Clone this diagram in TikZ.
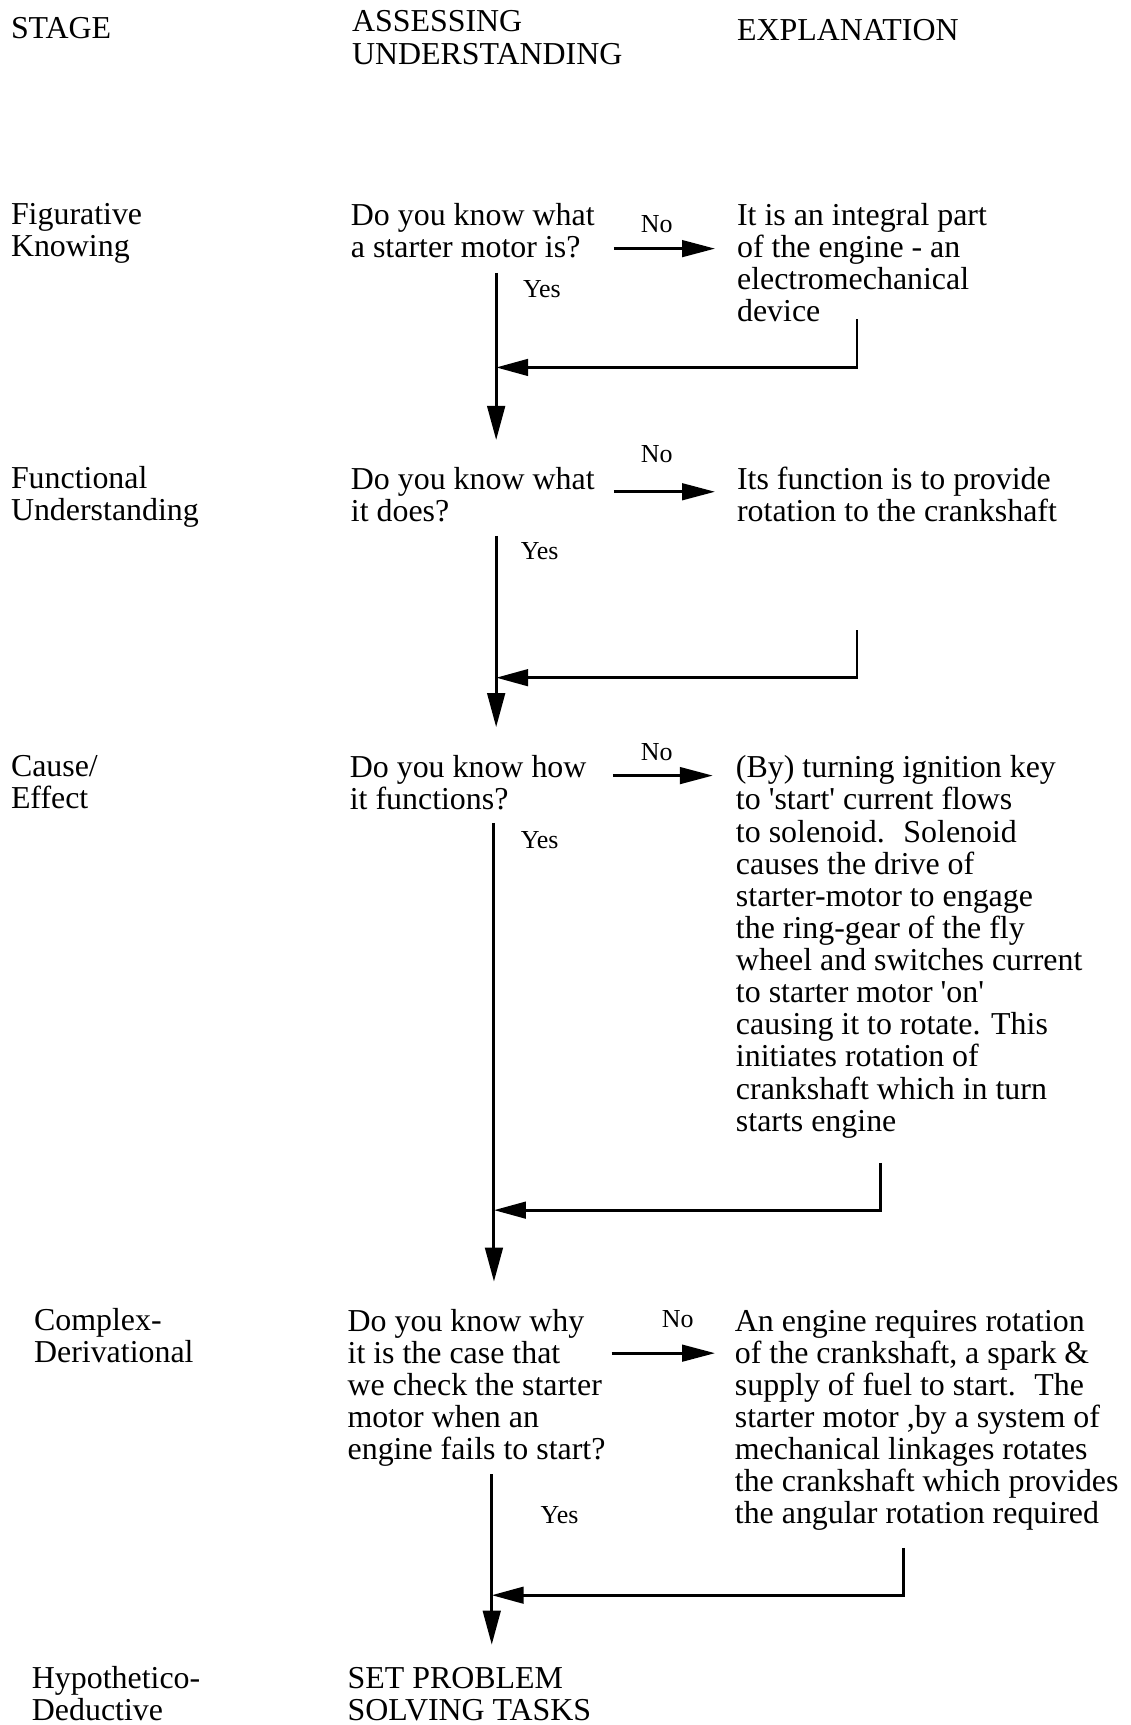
\documentclass[tikz,border=0pt]{standalone}
\usepackage{fontspec}
\setmainfont{Liberation Serif}
\usetikzlibrary{arrows.meta}
% fixed height for the first line of every text block, so its baseline sits at the node's point
\newcommand\firstline{\rule{0pt}{12pt}}
\newcommand\sq{\textquotesingle}

\begin{document}
\begin{tikzpicture}[x=0.5pt,y=-0.5pt,
  txt/.style={anchor=north west, inner sep=0pt, outer sep=0pt, align=left, yshift=12pt,
              font=\fontsize{14.5}{14.6}\selectfont},
  lbl/.style={anchor=base west, inner sep=0pt, font=\fontsize{11.8}{12}\selectfont},
  nolbl/.style={anchor=base, inner sep=0pt, font=\fontsize{11.8}{12}\selectfont},
  flow/.style={line width=1.35pt, -{Triangle[length=15.5pt,width=8pt]}},
  noarrow/.style={line width=1.35pt, -{Triangle[length=15pt,width=7.5pt]}},
  back/.style={line width=1.35pt, -{Triangle[length=14.5pt,width=7.5pt]}}]

\useasboundingbox[fill=white] (0,0) rectangle (1028,1568);

% column headings
\node[txt] (hstage) at (10,35) {\firstline STAGE};
\node[txt] (hassess) at (320,29) {\firstline ASSESSING\\UNDERSTANDING};
\node[txt] (hexpl) at (670,37) {\firstline EXPLANATION};

% stages
\node[txt] (s1) at (10,204) {\firstline Figurative\\Knowing};
\node[txt] (s2) at (10,444) {\firstline Functional\\Understanding};
\node[txt] (s3) at (10,706) {\firstline Cause/\\Effect};
\node[txt] (s4) at (31,1209) {\firstline Complex-\\Derivational};
\node[txt] (s5) at (29,1535) {\firstline Hypothetico-\\Deductive};

% questions
\node[txt] (q1) at (319,205) {\firstline Do you know what\\a starter motor is?};
\node[txt] (q2) at (319,445) {\firstline Do you know what\\it does?};
\node[txt] (q3) at (318,707) {\firstline Do you know how\\it functions?};
\node[txt] (q4) at (316,1210) {\firstline Do you know why\\it is the case that\\we check the starter\\motor when an\\engine fails to start?};
\node[txt] (q5) at (316,1535) {\firstline SET PROBLEM\\SOLVING TASKS};

% explanations
\node[txt] (e1) at (670,205) {\firstline It is an integral part\\of the engine - an\\electromechanical\\device};
\node[txt] (e2) at (670,445) {\firstline Its function is to provide\\rotation to the crankshaft};
\node[txt] (e3) at (669,707) {\firstline (By) turning ignition key\\to \sq start\sq{} current flows\\to solenoid.~ Solenoid\\causes the drive of\\starter-motor to engage\\the ring-gear of the fly\\wheel and switches current\\to starter motor \sq on\sq\\causing it to rotate. This\\initiates rotation of\\crankshaft which in turn\\starts engine};
\node[txt] (e4) at (668,1210) {\firstline An engine requires rotation\\of the crankshaft, a spark \&\\supply of fuel to start.~ The\\starter motor ,by a system of\\mechanical linkages rotates\\the crankshaft which provides\\the angular rotation required};

% "No" branches
\coordinate (n1a) at (558,226); \coordinate (n1b) at (650,226);
\coordinate (n2a) at (558,447); \coordinate (n2b) at (650,447);
\coordinate (n3a) at (557,705); \coordinate (n3b) at (648,705);
\coordinate (n4a) at (556,1230); \coordinate (n4b) at (650,1230);
\draw[noarrow] (n1a) -- (n1b);
\draw[noarrow] (n2a) -- (n2b);
\draw[noarrow] (n3a) -- (n3b);
\draw[noarrow] (n4a) -- (n4b);
\node[nolbl] (no1) at (597,211) {No};
\node[nolbl] (no2) at (597,420) {No};
\node[nolbl] (no3) at (597,691) {No};
\node[nolbl] (no4) at (616,1207) {No};

% "Yes" trunk
\coordinate (y1a) at (451,248);  \coordinate (y1b) at (451,400);
\coordinate (y2a) at (451,487);  \coordinate (y2b) at (451,661);
\coordinate (y3a) at (449,748);  \coordinate (y3b) at (449,1165);
\coordinate (y4a) at (447,1340); \coordinate (y4b) at (447,1495);
\draw[flow] (y1a) -- (y1b);
\draw[flow] (y2a) -- (y2b);
\draw[flow] (y3a) -- (y3b);
\draw[flow] (y4a) -- (y4b);
\node[lbl] (yes1) at (475,270) {Yes};
\node[lbl] (yes2) at (473,509) {Yes};
\node[lbl] (yes3) at (473,771) {Yes};
\node[lbl] (yes4) at (491,1385) {Yes};

% returns from the explanations to the trunk
\coordinate (r1a) at (779,290);  \coordinate (r1b) at (451,334);
\coordinate (r2a) at (779,573);  \coordinate (r2b) at (451,616);
\coordinate (r3a) at (800,1057); \coordinate (r3b) at (449,1100);
\coordinate (r4a) at (821,1407); \coordinate (r4b) at (447,1450);
\draw[back] (r1a) |- (r1b);
\draw[back] (r2a) |- (r2b);
\draw[back] (r3a) |- (r3b);
\draw[back] (r4a) |- (r4b);
\end{tikzpicture}
\end{document}
